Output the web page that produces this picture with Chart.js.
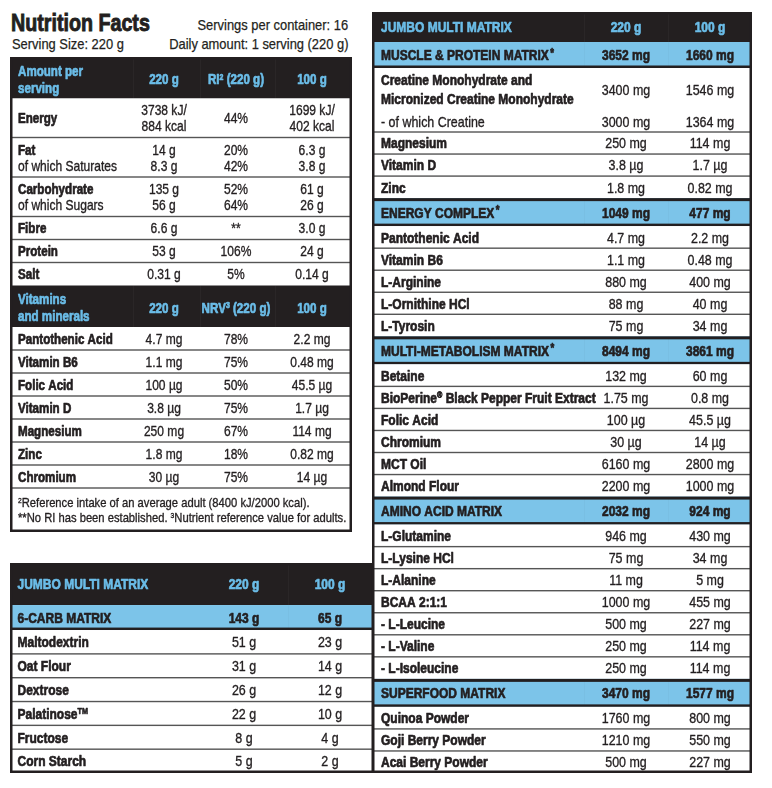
<!DOCTYPE html>
<html>
<head>
<meta charset="utf-8">
<script src="https://cdn.jsdelivr.net/npm/chart.js@4.4.1/dist/chart.umd.min.js"></script>
<style>
    body { margin: 0; width: 772px; height: 788px; position: relative; overflow: hidden; background: #fff;
           font-family: "Liberation Sans", Arial, Helvetica, sans-serif; color: #231f20; }
    .t { position: absolute; white-space: nowrap; line-height: 1; -webkit-text-stroke: 0.25px #231f20; }
    .panel { position: absolute; }
    .panel canvas { display: block; }
</style>
</head>
<body>

<div class="t" style="left:11px;top:10.5px;font-size:24px;font-weight:bold;transform:scaleX(0.82);transform-origin:0 0;-webkit-text-stroke:0.9px #231f20">Nutrition Facts</div>
<div class="t" style="right:424px;top:16.5px;font-size:15px;transform:scaleX(0.86);transform-origin:100% 0">Servings per container: 16</div>
<div class="t" style="left:12px;top:35.5px;font-size:15px;transform:scaleX(0.86);transform-origin:0 0">Serving Size: 220 g</div>
<div class="t" style="right:424px;top:35.5px;font-size:15px;transform:scaleX(0.86);transform-origin:100% 0">Daily amount: 1 serving (220 g)</div>

<div class="panel" style="left:10px;top:57px;z-index:1"><canvas id="tableA" width="342" height="475"></canvas></div>
<div class="panel" style="left:10px;top:563px;z-index:1"><canvas id="tableB" width="364" height="210"></canvas></div>
<div class="panel" style="left:372px;top:12px;z-index:2"><canvas id="tableC" width="380" height="761"></canvas></div>

<script>
const nutrientNames = ['Energy', 'Fat', 'of which Saturates', 'Carbohydrate', 'of which Sugars', 'Fibre', 'Protein', 'Salt'];
const nutrientPerServing = ['3738 kJ/\n884 kcal', '14 g', '8.3 g', '135 g', '56 g', '6.6 g', '53 g', '0.31 g'];
const nutrientRI = ['44%', '20%', '42%', '52%', '64%', '**', '106%', '5%'];
const nutrientPer100g = ['1699 kJ/\n402 kcal', '6.3 g', '3.8 g', '61 g', '26 g', '3.0 g', '24 g', '0.14 g'];

const vitaminNames = ['Pantothenic Acid', 'Vitamin B6', 'Folic Acid', 'Vitamin D', 'Magnesium', 'Zinc', 'Chromium'];
const vitaminPerServing = ['4.7 mg', '1.1 mg', '100 µg', '3.8 µg', '250 mg', '1.8 mg', '30 µg'];
const vitaminNRV = ['78%', '75%', '50%', '75%', '67%', '18%', '75%'];
const vitaminPer100g = ['2.2 mg', '0.48 mg', '45.5 µg', '1.7 µg', '114 mg', '0.82 mg', '14 µg'];

const footnotes = [
    '^2Reference intake of an average adult (8400 kJ/2000 kcal).',
    '**No RI has been established. ^3Nutrient reference value for adults.'
];

const carbNames = ['Maltodextrin', 'Oat Flour', 'Dextrose', 'Palatinose^{TM}', 'Fructose', 'Corn Starch'];
const carbPerServing = ['51 g', '31 g', '26 g', '22 g', '8 g', '5 g'];
const carbPer100g = ['23 g', '14 g', '12 g', '10 g', '4 g', '2 g'];
const carbTotal = ['143 g', '65 g'];

const matrixNames = ['MUSCLE & PROTEIN MATRIX^*', 'ENERGY COMPLEX^*', 'MULTI-METABOLISM MATRIX^*', 'AMINO ACID MATRIX', 'SUPERFOOD MATRIX'];
const matrixPerServing = ['3652 mg', '1049 mg', '8494 mg', '2032 mg', '3470 mg'];
const matrixPer100g = ['1660 mg', '477 mg', '3861 mg', '924 mg', '1577 mg'];

const muscleNames = ['Creatine Monohydrate and\nMicronized Creatine Monohydrate', '- of which Creatine', 'Magnesium', 'Vitamin D', 'Zinc'];
const musclePerServing = ['3400 mg', '3000 mg', '250 mg', '3.8 µg', '1.8 mg'];
const musclePer100g = ['1546 mg', '1364 mg', '114 mg', '1.7 µg', '0.82 mg'];

const energyNames = ['Pantothenic Acid', 'Vitamin B6', 'L-Arginine', 'L-Ornithine HCl', 'L-Tyrosin'];
const energyPerServing = ['4.7 mg', '1.1 mg', '880 mg', '88 mg', '75 mg'];
const energyPer100g = ['2.2 mg', '0.48 mg', '400 mg', '40 mg', '34 mg'];

const metabolismNames = ['Betaine', 'BioPerine^® Black Pepper Fruit Extract', 'Folic Acid', 'Chromium', 'MCT Oil', 'Almond Flour'];
const metabolismPerServing = ['132 mg', '1.75 mg', '100 µg', '30 µg', '6160 mg', '2200 mg'];
const metabolismPer100g = ['60 mg', '0.8 mg', '45.5 µg', '14 µg', '2800 mg', '1000 mg'];

const aminoNames = ['L-Glutamine', 'L-Lysine HCl', 'L-Alanine', 'BCAA 2:1:1', '- L-Leucine', '- L-Valine', '- L-Isoleucine'];
const aminoPerServing = ['946 mg', '75 mg', '11 mg', '1000 mg', '500 mg', '250 mg', '250 mg'];
const aminoPer100g = ['430 mg', '34 mg', '5 mg', '455 mg', '227 mg', '114 mg', '114 mg'];

const superfoodNames = ['Quinoa Powder', 'Goji Berry Powder', 'Acai Berry Powder'];
const superfoodPerServing = ['1760 mg', '1210 mg', '500 mg'];
const superfoodPer100g = ['800 mg', '550 mg', '227 mg'];

// ---- look ----
const FAMILY = '"Liberation Sans", Arial, Helvetica, sans-serif';
const INK = '#231f20';
const HEAD_BG = '#231f20';
const HEAD_TEXT = '#6bbde8';
const SECTION_BG = '#7cc4e9';
const RULE = '#555555';
const SQ_REG = 0.83;
const SQ_BOLD = 0.80;

function isSub(name) {
    return name.startsWith('of which') || name.startsWith('- of which');
}

function richParts(str) {
    const parts = [];
    const re = /\^(\{[^}]*\}|.)/g;
    let last = 0, m;
    while ((m = re.exec(str))) {
        if (m.index > last) parts.push({ t: str.slice(last, m.index), sup: false });
        let s = m[1];
        if (s[0] === '{') s = s.slice(1, -1);
        parts.push({ t: s, sup: true });
        last = re.lastIndex;
    }
    if (last < str.length) parts.push({ t: str.slice(last), sup: false });
    return parts;
}

function drawRich(ctx, str, x, y, align, size, bold, color) {
    const parts = richParts(str);
    const weight = bold ? 'bold' : 'normal';
    // the asterisk mark needs to stay readable when raised
    const supSize = p => p.t === '*' ? size * 0.8 : size * 0.6;
    const fontFor = p => weight + ' ' + (p.sup ? supSize(p) : size) + 'px ' + FAMILY;
    let w = 0;
    parts.forEach(p => {
        ctx.font = fontFor(p);
        p.pad = p.sup && p.t === '*' ? size * 0.12 : 0;
        p.w = ctx.measureText(p.t).width + p.pad;
        w += p.w;
    });
    ctx.save();
    ctx.translate(x, y);
    ctx.scale(bold ? SQ_BOLD : SQ_REG, 1);
    let cx = align === 'left' ? 0 : align === 'right' ? -w : -w / 2;
    ctx.textAlign = 'left';
    ctx.textBaseline = 'alphabetic';
    ctx.fillStyle = color;
    ctx.strokeStyle = color;
    ctx.lineJoin = 'round';
    ctx.lineWidth = bold ? 0.7 : 0.35;
    parts.forEach(p => {
        ctx.font = fontFor(p);
        const dy = p.sup ? (p.t === '*' ? -size * 0.22 : -size * 0.33) : 0;
        ctx.fillText(p.t, cx + p.pad, dy);
        ctx.strokeText(p.t, cx + p.pad, dy);
        cx += p.w;
    });
    ctx.restore();
}

function tablePlugin(panel, rows) {
    const total = rows.reduce((s, r) => s + r.h, 0);
    return {
        id: 'table',
        afterDraw(chart) {
            const ctx = chart.ctx;
            const X = v => chart.scales.x.getPixelForValue(v);
            const Y = v => chart.scales.y.getPixelForValue(v);
            const left = X(0), right = X(panel.width);
            ctx.save();

            // cell backgrounds and rules
            rows.forEach((r, i) => {
                const prev = rows[i - 1];
                const top = Y(r.start), bot = Y(r.start + r.h);
                if (r.kind === 'head') {
                    ctx.fillStyle = HEAD_BG;
                    ctx.fillRect(left, top, right - left, bot - top);
                    ctx.fillStyle = 'rgba(255,255,255,0.035)';
                    panel.dividers.forEach(d => ctx.fillRect(X(d), top, 1, bot - top));
                } else if (r.kind === 'section') {
                    ctx.fillStyle = SECTION_BG;
                    ctx.fillRect(left, top, right - left, bot - top);
                    ctx.fillStyle = 'rgba(0,0,0,0.025)';
                    panel.dividers.forEach(d => ctx.fillRect(X(d), top, 1, bot - top));
                    ctx.fillStyle = INK;
                    if (prev && prev.kind !== 'head') ctx.fillRect(left, top, right - left, Y(r.start + 3) - top);
                    ctx.fillRect(left, Y(r.start + r.h - 2.5), right - left, bot - Y(r.start + r.h - 2.5));
                } else {
                    ctx.fillStyle = '#ffffff';
                    ctx.fillRect(left, top, right - left, bot - top);
                    if (prev && prev.kind !== 'head' && prev.kind !== 'section' && r.kind !== 'sub') {
                        ctx.fillStyle = RULE;
                        ctx.fillRect(left, top - 0.7, right - left, 1.4);
                    }
                }
            });

            // cell texts
            rows.forEach((r, i) => {
                const next = rows[i + 1];
                let center = r.start + r.h / 2;
                if (panel.subGap && next && next.kind === 'sub') center = r.start + r.h - panel.subGap / 2;
                if (panel.subGap && r.kind === 'sub') center = r.start + panel.subGap / 2;
                if (r.kind === 'head') center += panel.headShift;
                const size = r.kind === 'foot' ? panel.footSize : panel.size;
                const gap = r.kind === 'foot' ? panel.footGap : (r.kind === 'head' ? panel.headGap : panel.lineGap);
                r.cells.forEach((txt, c) => {
                    const col = panel.cols[c];
                    const bold = r.kind === 'head' || r.kind === 'section' || (c === 0 && r.kind === 'row');
                    const color = r.kind === 'head' ? HEAD_TEXT : INK;
                    const lines = txt.split('\n');
                    lines.forEach((ln, k) => {
                        const yc = center + (k - (lines.length - 1) / 2) * gap;
                        drawRich(ctx, ln, X(col.x), Y(yc) + size * 0.36, col.align, size, bold, color);
                    });
                });
            });

            // outer frame
            ctx.strokeStyle = INK;
            ctx.lineWidth = 2.5;
            ctx.strokeRect(left + 1.25, Y(0) + 1.25, right - left - 2.5, Y(total) - Y(0) - 2.5);
            ctx.restore();
        }
    };
}

function layoutRows(rows, heightOf) {
    let y = 0;
    rows.forEach((r, i) => { r.h = heightOf(r, i, rows); r.start = y; y += r.h; });
    return y;
}

function drawTable(canvasId, panel, rows, heightOf) {
    const total = layoutRows(rows, heightOf);
    const ctx = document.getElementById(canvasId).getContext('2d');
    return new Chart(ctx, {
        type: 'scatter',
        data: { datasets: [] },
        options: {
            responsive: false,
            animation: false,
            events: [],
            layout: { padding: 0 },
            plugins: { legend: { display: false }, tooltip: { enabled: false } },
            scales: {
                x: { type: 'linear', min: 0, max: panel.width, display: false },
                y: { type: 'linear', min: 0, max: total, reverse: true, display: false }
            }
        },
        plugins: [tablePlugin(panel, rows)]
    });
}

function itemRows(names, a, b, c) {
    return names.map((n, i) => ({
        kind: isSub(n) ? 'sub' : 'row',
        cells: c ? [n, a[i], b[i], c[i]] : [n, a[i], b[i]]
    }));
}

// ---- left top: nutrition facts ----
const rowsA = [
    { kind: 'head', cells: ['Amount per\nserving', '220 g', 'RI^2 (220 g)', '100 g'] },
    ...itemRows(nutrientNames, nutrientPerServing, nutrientRI, nutrientPer100g),
    { kind: 'head', cells: ['Vitamins\nand minerals', '220 g', 'NRV^3 (220 g)', '100 g'] },
    ...itemRows(vitaminNames, vitaminPerServing, vitaminNRV, vitaminPer100g),
    { kind: 'foot', cells: [footnotes.join('\n')] }
];
drawTable('tableA', {
    width: 342, size: 14.5, lineGap: 16, headGap: 17, headShift: 1.5, subGap: 16, footSize: 13.5, footGap: 15,
    cols: [{ x: 8, align: 'left' }, { x: 154 }, { x: 226 }, { x: 302 }],
    dividers: [123, 190, 265]
}, rowsA, (r, i, rows) => {
    if (r.kind === 'head') return 41.5;
    if (r.kind === 'foot') return 44;
    if (r.kind === 'sub') return 19.5;
    if (rows[i + 1] && rows[i + 1].kind === 'sub') return 20;
    return r.cells.some(t => t.includes('\n')) ? 39 : 23;
});

// ---- left bottom: carb matrix ----
const rowsB = [
    { kind: 'head', cells: ['JUMBO MULTI MATRIX', '220 g', '100 g'] },
    { kind: 'section', cells: ['6-CARB MATRIX', carbTotal[0], carbTotal[1]] },
    ...itemRows(carbNames, carbPerServing, carbPer100g)
];
drawTable('tableB', {
    width: 364, size: 15, lineGap: 19, headGap: 19, headShift: 0, footSize: 13, footGap: 15,
    cols: [{ x: 7.5, align: 'left' }, { x: 234 }, { x: 320 }],
    dividers: [278]
}, rowsB, r => r.kind === 'head' ? 42 : r.kind === 'section' ? 25 : 23.8);

// ---- right: jumbo multi matrix ----
const groups = [
    [muscleNames, musclePerServing, musclePer100g],
    [energyNames, energyPerServing, energyPer100g],
    [metabolismNames, metabolismPerServing, metabolismPer100g],
    [aminoNames, aminoPerServing, aminoPer100g],
    [superfoodNames, superfoodPerServing, superfoodPer100g]
];
const rowsC = [{ kind: 'head', cells: ['JUMBO MULTI MATRIX', '220 g', '100 g'] }];
matrixNames.forEach((name, g) => {
    rowsC.push({ kind: 'section', cells: [name, matrixPerServing[g], matrixPer100g[g]] });
    rowsC.push(...itemRows(groups[g][0], groups[g][1], groups[g][2]));
});
drawTable('tableC', {
    width: 380, size: 15, lineGap: 19, headGap: 19, headShift: 0, footSize: 13, footGap: 15,
    cols: [{ x: 9, align: 'left' }, { x: 254 }, { x: 338 }],
    dividers: [212, 296]
}, rowsC, (r, i, rows) => {
    if (r.kind === 'head') return 30;
    if (r.kind === 'section') return rows[i - 1].kind === 'head' ? 26 : 28;
    if (r.kind === 'sub') return 21;
    return r.cells[0].includes('\n') ? 43 : 22.04;
});
</script>
</body>
</html>
